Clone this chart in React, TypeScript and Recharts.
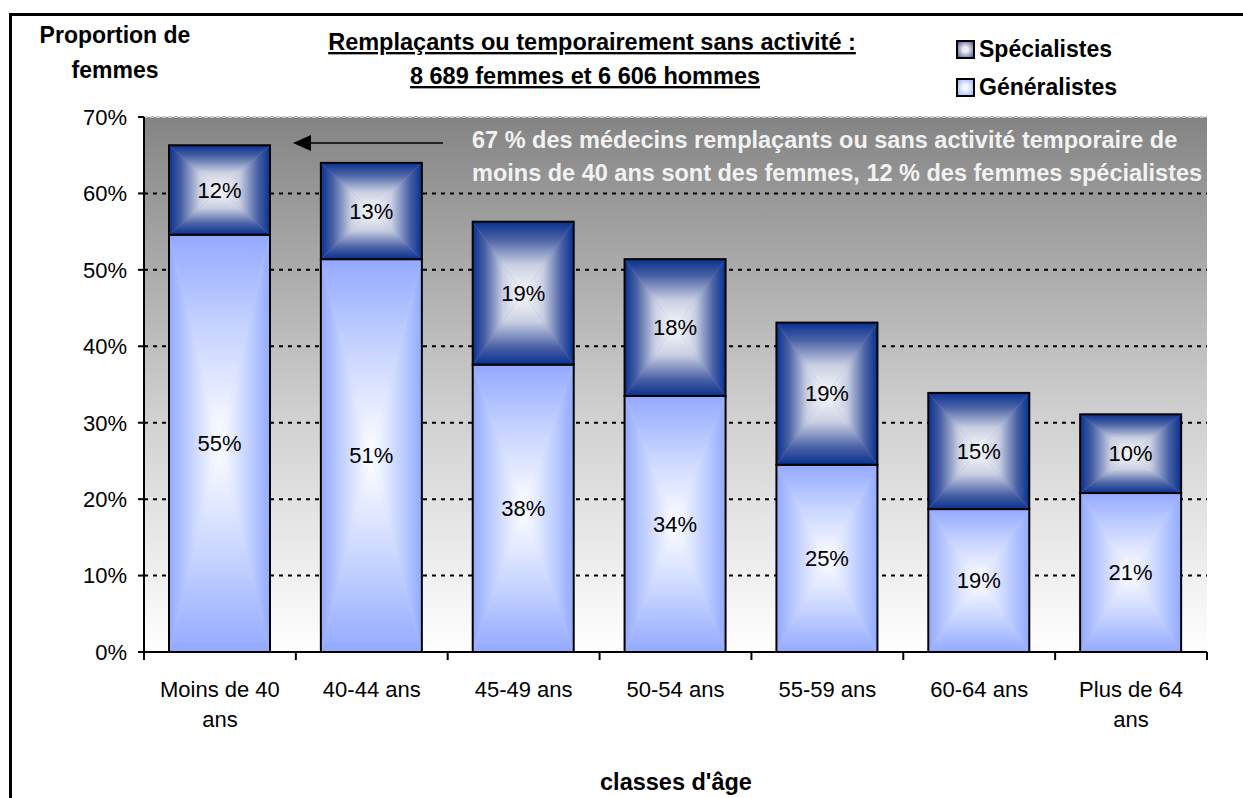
import React from "react";
import {
  Bar,
  BarChart,
  CartesianGrid,
  LabelList,
  Legend,
  ReferenceLine,
  XAxis,
  YAxis,
} from "recharts";

const FONT = '"Liberation Sans", Arial, Helvetica, sans-serif';

// age classes on the x axis
const categories = [
  "Moins de 40 ans",
  "40-44 ans",
  "45-49 ans",
  "50-54 ans",
  "55-59 ans",
  "60-64 ans",
  "Plus de 64 ans",
];

// share of women (%)
const generalistes = [54.6, 51.4, 37.6, 33.5, 24.5, 18.7, 20.8];
const specialistes = [11.7, 12.6, 18.7, 17.9, 18.6, 15.2, 10.3];

const yTicks = [0, 10, 20, 30, 40, 50, 60, 70];
const gridValues = [10, 20, 30, 40, 50, 60];

const data = categories.map((cat, i) => ({
  cat,
  gen: generalistes[i],
  spec: specialistes[i],
}));

const pct = (v: number) => `${Math.round(v)}%`;

// "from centre" rectangular gradient: four triangles, each fading from its
// edge to the middle of the bar
function PyramidBar(props: any) {
  const { x, y, width: w, height: h, idp, mid } = props;
  if (!h || h <= 0) return null;
  const cx = x + w / 2;
  const cy = y + h / 2;
  return (
    <g>
      <rect x={x} y={y} width={w} height={h} fill={mid} />
      <polygon points={`${x},${y} ${x + w},${y} ${cx},${cy}`} fill={`url(#${idp}-t)`} />
      <polygon points={`${x},${y + h} ${x + w},${y + h} ${cx},${cy}`} fill={`url(#${idp}-b)`} />
      <polygon points={`${x},${y} ${x},${y + h} ${cx},${cy}`} fill={`url(#${idp}-l)`} />
      <polygon points={`${x + w},${y} ${x + w},${y + h} ${cx},${cy}`} fill={`url(#${idp}-r)`} />
      <rect x={x} y={y} width={w} height={h} fill="none" stroke="#000" strokeWidth={2} />
    </g>
  );
}

function GradSet({ id, stops }: { id: string; stops: [number, string][] }) {
  const dirs: Record<string, [number, number, number, number]> = {
    t: [0, 0, 0, 1],
    b: [0, 1, 0, 0],
    l: [0, 0, 1, 0],
    r: [1, 0, 0, 0],
  };
  return (
    <>
      {Object.entries(dirs).map(([k, [x1, y1, x2, y2]]) => (
        <linearGradient key={k} id={`${id}-${k}`} x1={x1} y1={y1} x2={x2} y2={y2}>
          {stops.map(([o, c]) => (
            <stop key={o} offset={o} stopColor={c} />
          ))}
        </linearGradient>
      ))}
    </>
  );
}

// long labels break before their last word, like the original
function CatTick({ x, y, payload }: any) {
  const label: string = payload.value;
  const cut = label.lastIndexOf(" ");
  const lines = label.length > 10 ? [label.slice(0, cut), label.slice(cut + 1)] : [label];
  return (
    <text x={x} y={y} textAnchor="middle" fill="#000" fontSize={22} fontFamily={FONT}>
      {lines.map((l, i) => (
        <tspan key={i} x={x} dy={i === 0 ? 16 : 30}>
          {l}
        </tspan>
      ))}
    </text>
  );
}

// small tick below the axis at a category boundary
function EdgeTick(props: any) {
  const { x1, y1, y2 } = props;
  const bottom = Math.max(y1, y2);
  return <line x1={x1} x2={x1} y1={bottom} y2={bottom + 8} stroke="#000" strokeWidth={2} />;
}

const legendSwatch: Record<string, string> = {
  spec: "radial-gradient(#eceef4 25%, #4a5c96 100%)",
  gen: "radial-gradient(#f2f5ff 25%, #9db3ff 100%)",
};

function LegendBox({ payload }: any) {
  const items = [...(payload || [])].reverse();
  return (
    <div style={{ fontFamily: FONT, fontWeight: "bold", fontSize: 23, color: "#000" }}>
      {items.map((it: any) => (
        <div key={it.dataKey} style={{ display: "flex", alignItems: "center", height: 38 }}>
          <span
            style={{
              display: "inline-block",
              width: 15,
              height: 15,
              border: "2px solid #000",
              background: legendSwatch[it.dataKey],
              marginRight: 4,
            }}
          />
          {it.value}
        </div>
      ))}
    </div>
  );
}

export default function App() {
  return (
    <div style={{ position: "relative", width: 1243, height: 798, overflow: "hidden", background: "#fff" }}>
      <style>{`body{margin:0;overflow:hidden;}`}</style>
      <svg width={0} height={0} style={{ position: "absolute" }}>
        <defs>
          <linearGradient id="plotBg" x1="0" y1="0" x2="0" y2="1">
            <stop offset="0" stopColor="#848484" />
            <stop offset="0.55" stopColor="#cfcfcf" />
            <stop offset="1" stopColor="#ffffff" />
          </linearGradient>
          <GradSet
            id="spec"
            stops={[
              [0, "#08318f"],
              [0.25, "#4c63a6"],
              [0.6, "#c9cfe2"],
              [1, "#fbfbfd"],
            ]}
          />
          <GradSet
            id="gen"
            stops={[
              [0, "#93a9ff"],
              [0.45, "#c6d3ff"],
              [1, "#ffffff"],
            ]}
          />
        </defs>
      </svg>

      <div
        style={{
          position: "absolute",
          left: 9,
          top: 13,
          width: 1280,
          height: 830,
          border: "3px solid #000",
        }}
      />

      <div style={{ position: "absolute", left: 0, top: 0 }}>
        <BarChart
          width={1243}
          height={798}
          data={data}
          margin={{ top: 117, right: 36, left: 0, bottom: 86 }}
        >
          <CartesianGrid
            vertical={false}
            horizontalValues={gridValues}
            stroke="#000"
            strokeWidth={2}
            strokeDasharray="4 5"
            fill="url(#plotBg)"
            fillOpacity={1}
          />
          <XAxis
            dataKey="cat"
            height={60}
            axisLine={{ stroke: "#000", strokeWidth: 2 }}
            tickLine={false}
            tickSize={8}
            tickMargin={21}
            interval={0}
            tick={<CatTick />}
          />
          <YAxis
            width={144}
            domain={[0, 70]}
            ticks={yTicks}
            tickFormatter={(v: number) => `${v}%`}
            tickSize={6}
            tickMargin={11}
            tick={{ fill: "#000", fontSize: 22, fontFamily: FONT }}
            tickLine={{ stroke: "#000", strokeWidth: 2 }}
            axisLine={{ stroke: "#000", strokeWidth: 2 }}
          />
          <YAxis
            yAxisId="r"
            orientation="right"
            width={0}
            domain={[0, 70]}
            tick={false}
            tickLine={false}
            axisLine={{ stroke: "#c8c8c8", strokeWidth: 2 }}
          />
          <ReferenceLine y={70} stroke="#c8c8c8" strokeWidth={2} strokeDasharray="4 2" />
          {categories.map((c) => (
            <ReferenceLine key={c} x={c} position="start" shape={<EdgeTick />} />
          ))}
          <ReferenceLine
            x={categories[categories.length - 1]}
            position="end"
            shape={<EdgeTick />}
          />
          <Legend
            layout="vertical"
            align="center"
            verticalAlign="middle"
            wrapperStyle={{ left: 956, top: 30, width: 260, height: 80 }}
            content={<LegendBox />}
          />
          <Bar
            dataKey="gen"
            name="Généralistes"
            stackId="a"
            barSize={101}
            fill="#b3c4ff"
            isAnimationActive={false}
            shape={(p: any) => <PyramidBar {...p} idp="gen" mid="#c9d5ff" />}
          >
            <LabelList
              dataKey="gen"
              position="center"
              formatter={pct}
              fill="#000"
              fontSize={22}
              fontFamily={FONT}
            />
          </Bar>
          <Bar
            dataKey="spec"
            name="Spécialistes"
            stackId="a"
            barSize={101}
            fill="#5a6a9a"
            isAnimationActive={false}
            shape={(p: any) => <PyramidBar {...p} idp="spec" mid="#8a98c4" />}
          >
            <LabelList
              dataKey="spec"
              position="center"
              formatter={pct}
              fill="#000"
              fontSize={22}
              fontFamily={FONT}
            />
          </Bar>
        </BarChart>
      </div>

      <svg
        width={1243}
        height={798}
        style={{ position: "absolute", left: 0, top: 0, pointerEvents: "none" }}
        fontFamily={FONT}
      >
        <text x={115} y={43} textAnchor="middle" fontSize={23} fontWeight="bold">
          Proportion de
        </text>
        <text x={115} y={78} textAnchor="middle" fontSize={23} fontWeight="bold">
          femmes
        </text>
        <text
          x={592}
          y={50}
          textAnchor="middle"
          fontSize={23.5}
          fontWeight="bold"
          style={{ textDecoration: "underline" }}
        >
          Remplaçants ou temporairement sans activité :
        </text>
        <text
          x={585}
          y={84}
          textAnchor="middle"
          fontSize={23.5}
          fontWeight="bold"
          style={{ textDecoration: "underline" }}
        >
          8 689 femmes et 6 606 hommes
        </text>
        <text x={472} y={148} fontSize={23.5} fontWeight="bold" fill="#f2f2f2">
          67 % des médecins remplaçants ou sans activité temporaire de
        </text>
        <text x={472} y={181} fontSize={23.5} fontWeight="bold" fill="#f2f2f2">
          moins de 40 ans sont des femmes, 12 % des femmes spécialistes
        </text>
        <line x1={443} y1={143} x2={308} y2={143} stroke="#000" strokeWidth={1.5} />
        <polygon points="293,143 311,135 311,151" fill="#000" />
        <text x={676} y={790} textAnchor="middle" fontSize={23.5} fontWeight="bold">
          classes d'âge
        </text>
      </svg>
    </div>
  );
}
